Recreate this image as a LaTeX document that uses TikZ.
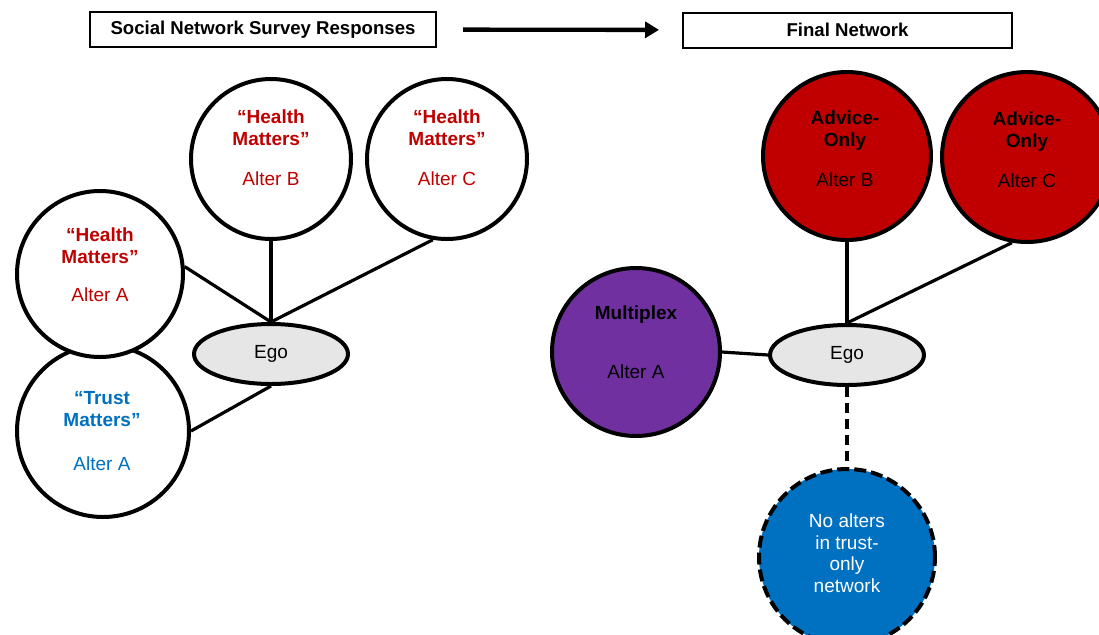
\documentclass[tikz,border=0pt]{standalone}
\usepackage{fontspec}
\setmainfont{Liberation Sans}
\usetikzlibrary{arrows.meta,shapes.geometric}
\definecolor{hmred}{RGB}{192,0,0}
\definecolor{tmblue}{RGB}{0,112,192}
\definecolor{mxpurple}{RGB}{112,48,160}
\definecolor{egogray}{RGB}{230,230,230}
\begin{document}
\begin{tikzpicture}[x=0.5pt,y=-0.5pt,
  alter/.style={circle,draw,line width=2pt,fill=white,inner sep=0pt},
  ego/.style={ellipse,draw,line width=2pt,fill=egogray,inner sep=0pt,minimum width=77pt,minimum height=30pt,font=\fontsize{9.5}{11}\selectfont},
  tie/.style={line width=1.6pt},
  lbl/.style={align=center,font=\fontsize{9.5}{11}\selectfont},
  title/.style={draw,line width=1pt,minimum height=17.5pt,font=\bfseries\fontsize{9.3}{11}\selectfont}]
\useasboundingbox (0,0) rectangle (1099,634);
% survey responses
\node[alter,minimum size=86pt] (ta) at (103,431) {};
\node[alter,minimum size=83pt] (ha) at (100,274) {};
\node[alter,minimum size=80pt] (hb) at (271,159) {};
\node[alter,minimum size=80pt] (hc) at (447,159) {};
\node[ego] (egoL) at (271,354) {Ego};
\node[lbl,text=hmred] (hat) at (100,265) {{\bfseries “Health}\\{\bfseries Matters”}\\[8pt]Alter A};
\node[lbl,text=tmblue] (tat) at (102,431) {{\bfseries “Trust}\\{\bfseries Matters”}\\[11pt]Alter A};
\node[lbl,text=hmred] (hbt) at (271,148) {{\bfseries “Health}\\{\bfseries Matters”}\\[9pt]Alter B};
\node[lbl,text=hmred] (hct) at (447,148) {{\bfseries “Health}\\{\bfseries Matters”}\\[9pt]Alter C};
\draw[tie] (ha.5) -- (egoL.north);
\draw[tie] (hb) -- (egoL.north);
\draw[tie] (hc.260) -- (egoL.north);
\draw[tie] (ta.east) -- (egoL.south);
% final network
\node[alter,fill=hmred,minimum size=84pt] (ab) at (847,156) {};
\node[alter,fill=hmred,minimum size=85pt] (ac) at (1027,157) {};
\node[alter,fill=mxpurple,minimum size=84pt] (mx) at (636,352) {};
\node[alter,fill=tmblue,minimum size=88pt,dash pattern=on 6pt off 2.5pt] (no) at (847,557) {};
\node[ego] (egoR) at (847,355) {Ego};
\node[lbl] (abt) at (845,149) {{\bfseries Advice-}\\{\bfseries Only}\\[9pt]Alter B};
\node[lbl] (act) at (1027,150) {{\bfseries Advice-}\\{\bfseries Only}\\[9pt]Alter C};
\node[lbl] (mxt) at (636,342) {{\bfseries Multiplex}\\[18.5pt]Alter A};
\node[lbl,text=white,font=\fontsize{9.5}{10.75}\selectfont] (not) at (847,553) {No alters\\in trust-\\only\\network};
\draw[tie] (ab) -- (egoR.north);
\draw[tie] (ac.260) -- (egoR.north);
\draw[tie] (mx.east) -- (egoR.west);
\draw[tie,dash pattern=on 5pt off 3pt] (egoR.south) -- (no.north);
% titles
\node[title,minimum width=173pt] (survey) at (263,29.5) {Social Network Survey Responses};
\node[title,minimum width=164.5pt] (final) at (847.5,30) {Final Network};
\draw[line width=2.2pt,-{Triangle[length=7pt,width=8pt]},shorten <=13pt,shorten >=11.5pt] (survey) -- (final);
\end{tikzpicture}
\end{document}
